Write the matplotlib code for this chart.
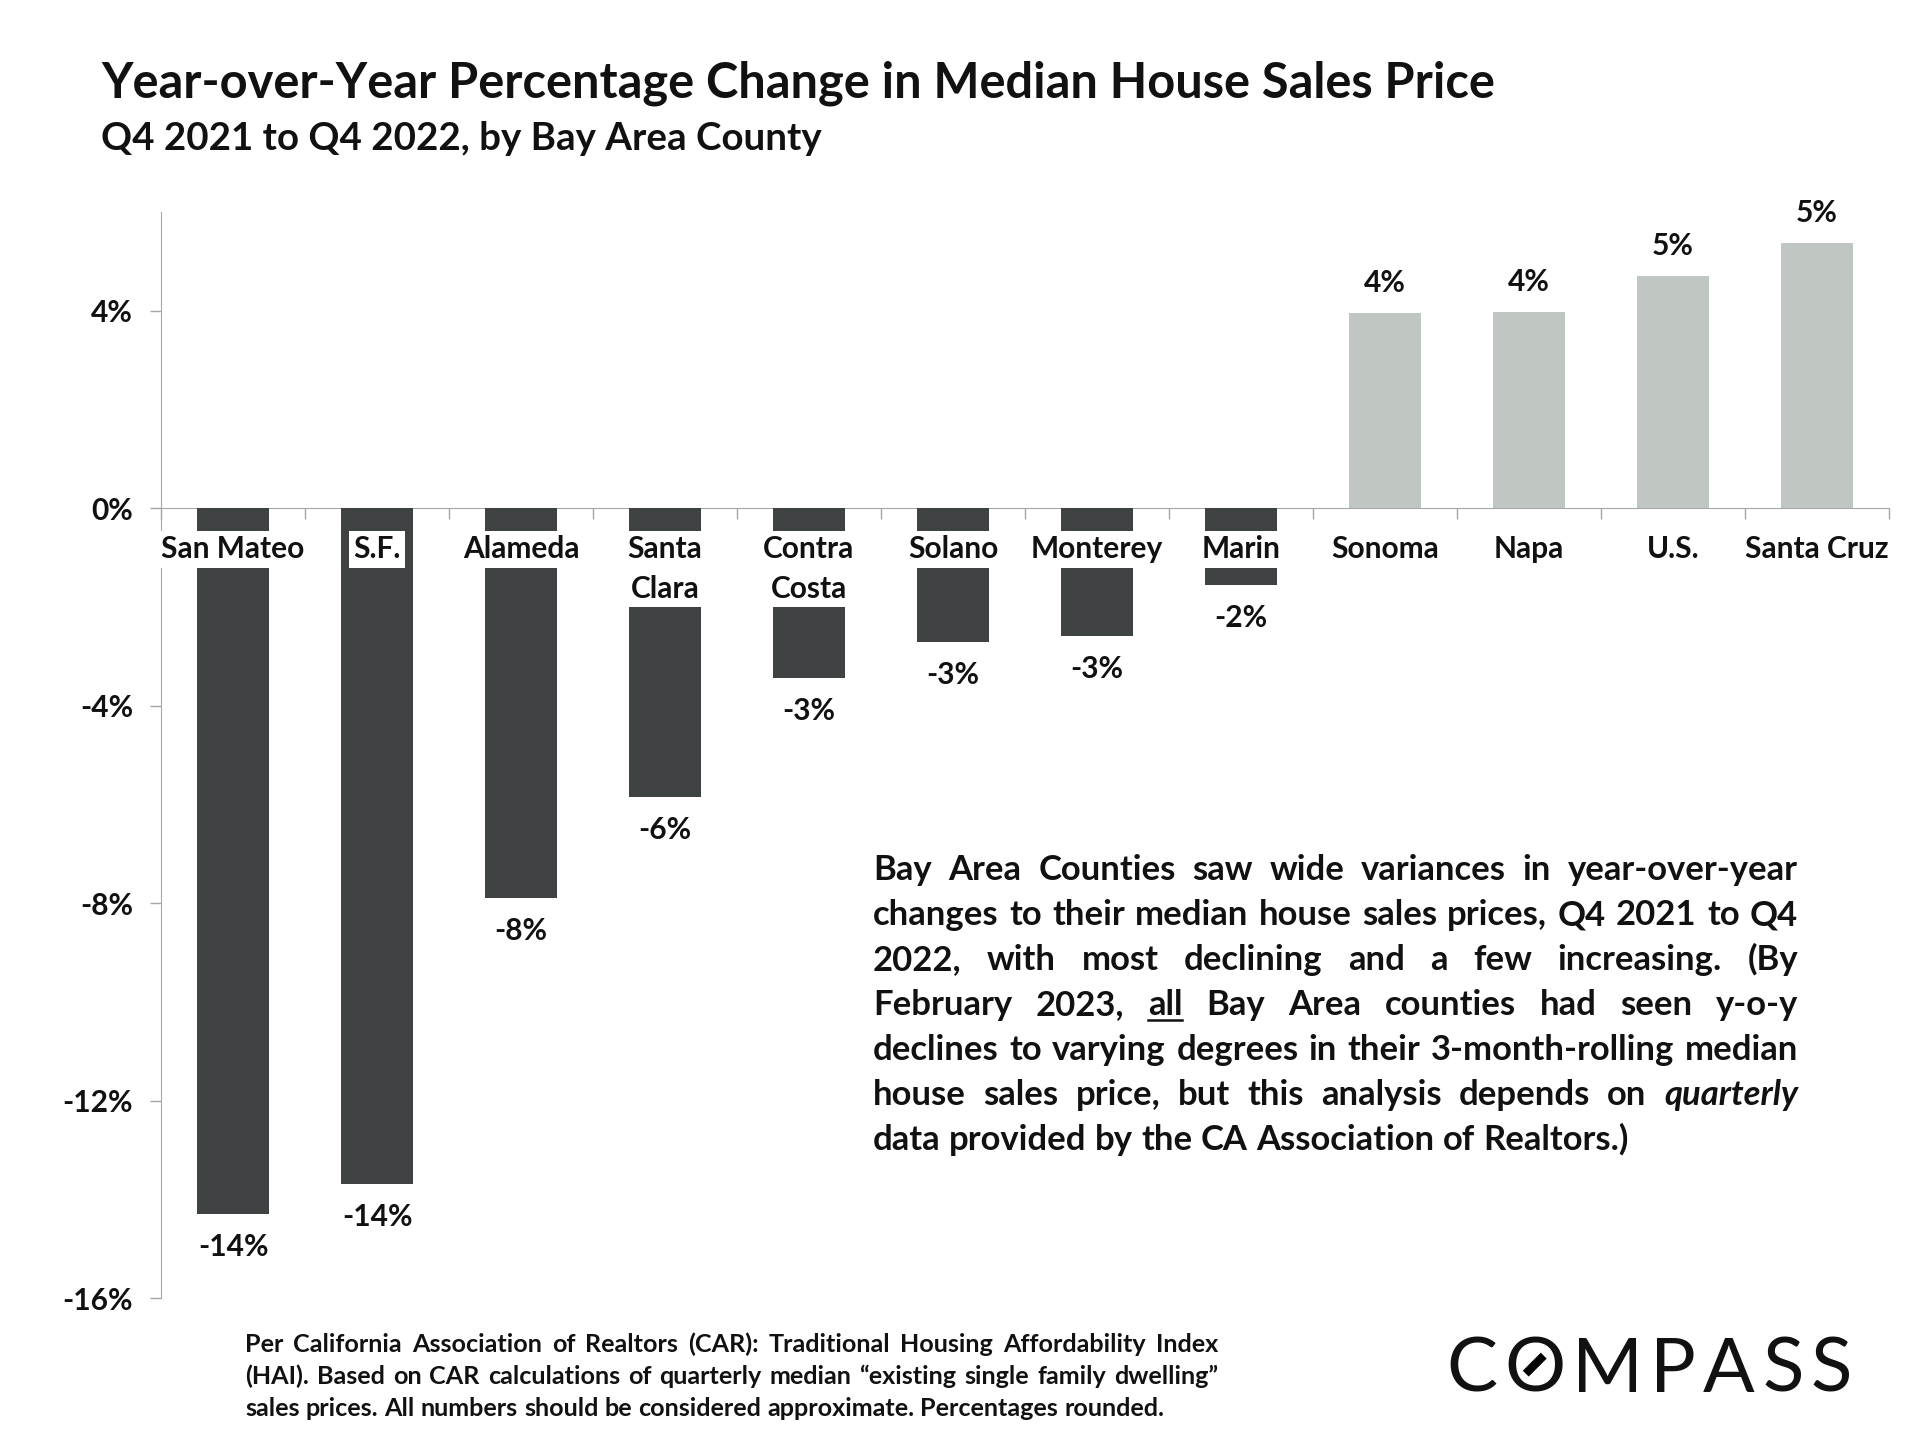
import matplotlib
matplotlib.use('Agg')
import matplotlib.pyplot as plt
from matplotlib.lines import Line2D
import numpy as np

counties = ['San Mateo', 'S.F.', 'Alameda', 'Santa\nClara', 'Contra\nCosta', 'Solano',
            'Monterey', 'Marin', 'Sonoma', 'Napa', 'U.S.', 'Santa Cruz']
changes = [-14.3, -13.7, -7.9, -5.85, -3.45, -2.72, -2.58, -1.55, 3.95, 3.98, 4.7, 5.38]
value_labels = ['-14%', '-14%', '-8%', '-6%', '-3%', '-3%', '-3%', '-2%', '4%', '4%', '5%', '5%']
yticks = [4, 0, -4, -8, -12, -16]

title = 'Year-over-Year Percentage Change in Median House Sales Price'
subtitle = 'Q4 2021 to Q4 2022, by Bay Area County'

# paragraph lines as in the picture; '_' marks underline, '*' marks italic
note_lines = [
    'Bay Area Counties saw wide variances in year-over-year',
    'changes to their median house sales prices, Q4 2021 to Q4',
    '2022, with most declining and a few increasing. (By',
    'February 2023, _all Bay Area counties had seen y-o-y',
    'declines to varying degrees in their 3-month-rolling median',
    'house sales price, but this analysis depends on *quarterly',
    'data provided by the CA Association of Realtors.)',
]
foot_lines = [
    'Per California Association of Realtors (CAR): Traditional Housing Affordability Index',
    '(HAI). Based on CAR calculations of quarterly median \u201cexisting single family dwelling\u201d',
    'sales prices. All numbers should be considered approximate. Percentages rounded.',
]

DARK = '#3e4242'
LIGHT = '#c0c6c2'
GRAY = '#a6a6a6'
TXT = '#111111'

W, H = 1920, 1440
plt.rcParams['font.family'] = ['Lato', 'DejaVu Sans']
fig = plt.figure(figsize=(19.2, 14.4), dpi=100)
renderer = fig.canvas.get_renderer()


def fx(x):
    return x / W


def fy(y):
    return 1 - y / H


def text_w(s, size, weight='bold', style='normal'):
    t = fig.text(0, 0, s, fontsize=size, fontweight=weight, fontstyle=style)
    w = t.get_window_extent(renderer).width
    t.remove()
    return w


def fit(s, target, weight='bold'):
    return 20 * target / text_w(s, 20, weight)


def draw_line(line, x0, x1, base, size, justify=True, weight='bold'):
    words = line.split(' ')
    items = []
    for w in words:
        st = ''
        if w.startswith('_') or w.startswith('*'):
            st, w = w[0], w[1:]
        t = fig.text(0, fy(base), w, fontsize=size, fontweight=weight, color=TXT,
                     fontstyle='italic' if st == '*' else 'normal', va='baseline', ha='left')
        items.append((t, st, t.get_window_extent(renderer).width))
    total = sum(i[2] for i in items)
    if justify and len(items) > 1:
        gap = (x1 - x0 - total) / (len(items) - 1)
    else:
        gap = text_w('a a', size, weight) - text_w('aa', size, weight)
    x = x0
    for t, st, wd in items:
        t.set_x(fx(x))
        if st == '_':
            fig.add_artist(Line2D([fx(x), fx(x + wd)], [fy(base + 5), fy(base + 5)],
                                  transform=fig.transFigure, color=TXT, lw=1.8))
        x += wd + gap
    return items


# ---- chart ----
ax = fig.add_axes([fx(161), fy(1298), (1889 - 161) / W, (1298 - 212) / H])
x = np.arange(len(counties))
ax.bar(x, changes, width=0.5, color=[DARK if v < 0 else LIGHT for v in changes], zorder=2)
ax.set_xlim(-0.5, 11.5)
ax.set_ylim(-16, 6)

for s in ['top', 'right']:
    ax.spines[s].set_visible(False)
ax.spines['left'].set_color(GRAY)
ax.spines['bottom'].set_color(GRAY)
ax.spines['bottom'].set_position(('data', 0))
ax.spines['bottom'].set_zorder(1)

lab_size = fit('San Mateo', 143)

ax.set_xticks(np.arange(-0.5, 12, 1))
ax.set_xticklabels([])
ax.tick_params(axis='x', length=8, color=GRAY, width=1)
ax.set_yticks(yticks)
ax.set_yticklabels([f'{t}%' for t in yticks], fontsize=lab_size, fontweight='bold', color=TXT)
ax.tick_params(axis='y', length=8, color=GRAY, width=1, pad=12)

for i, (c, v, lab) in enumerate(zip(counties, changes, value_labels)):
    ax.text(i, -0.55, c, ha='center', va='top', fontsize=lab_size, fontweight='bold',
            color=TXT, linespacing=1.5, zorder=4,
            bbox=dict(facecolor='white', edgecolor='none', pad=3))
    off = -33 if v < 0 else 30
    ax.annotate(lab, (i, v), xytext=(0, off), textcoords='offset pixels', ha='center',
                va='center', fontsize=lab_size, fontweight='bold', color=TXT)

# ---- titles ----
fig.text(fx(101), fy(98), title, fontsize=fit(title, 1396), fontweight='bold',
         color=TXT, va='baseline')
fig.text(fx(101), fy(150), subtitle, fontsize=fit(subtitle, 720), fontweight='bold',
         color=TXT, va='baseline')

# ---- paragraph ----
note_size = 20 * 758 / text_w(note_lines[-1], 20)
for k, line in enumerate(note_lines):
    draw_line(line, 873, 1798, 880 + 45 * k, note_size, justify=k < len(note_lines) - 1)

# ---- footnote ----
foot_size = 20 * 921 / text_w(foot_lines[-1], 20)
for k, line in enumerate(foot_lines):
    draw_line(line, 245, 1218, 1352 + 32 * k, foot_size, justify=k < len(foot_lines) - 1)

# ---- logo ----
logo_size = 55
letters = draw_line('C O M P A S S', 1446, 1852, 1392, logo_size, weight='normal')
t_o, _, w_o = letters[1]
ox = t_o.get_position()[0] * W + w_o / 2
oy = 1392 - 0.7165 * logo_size * 100 / 72 / 2
d = 9
fig.add_artist(Line2D([fx(ox - d), fx(ox + d)], [fy(oy + d), fy(oy - d)],
                      transform=fig.transFigure, color='black', lw=6, solid_capstyle='butt'))

fig.savefig('out.png', dpi=100, facecolor='white')
